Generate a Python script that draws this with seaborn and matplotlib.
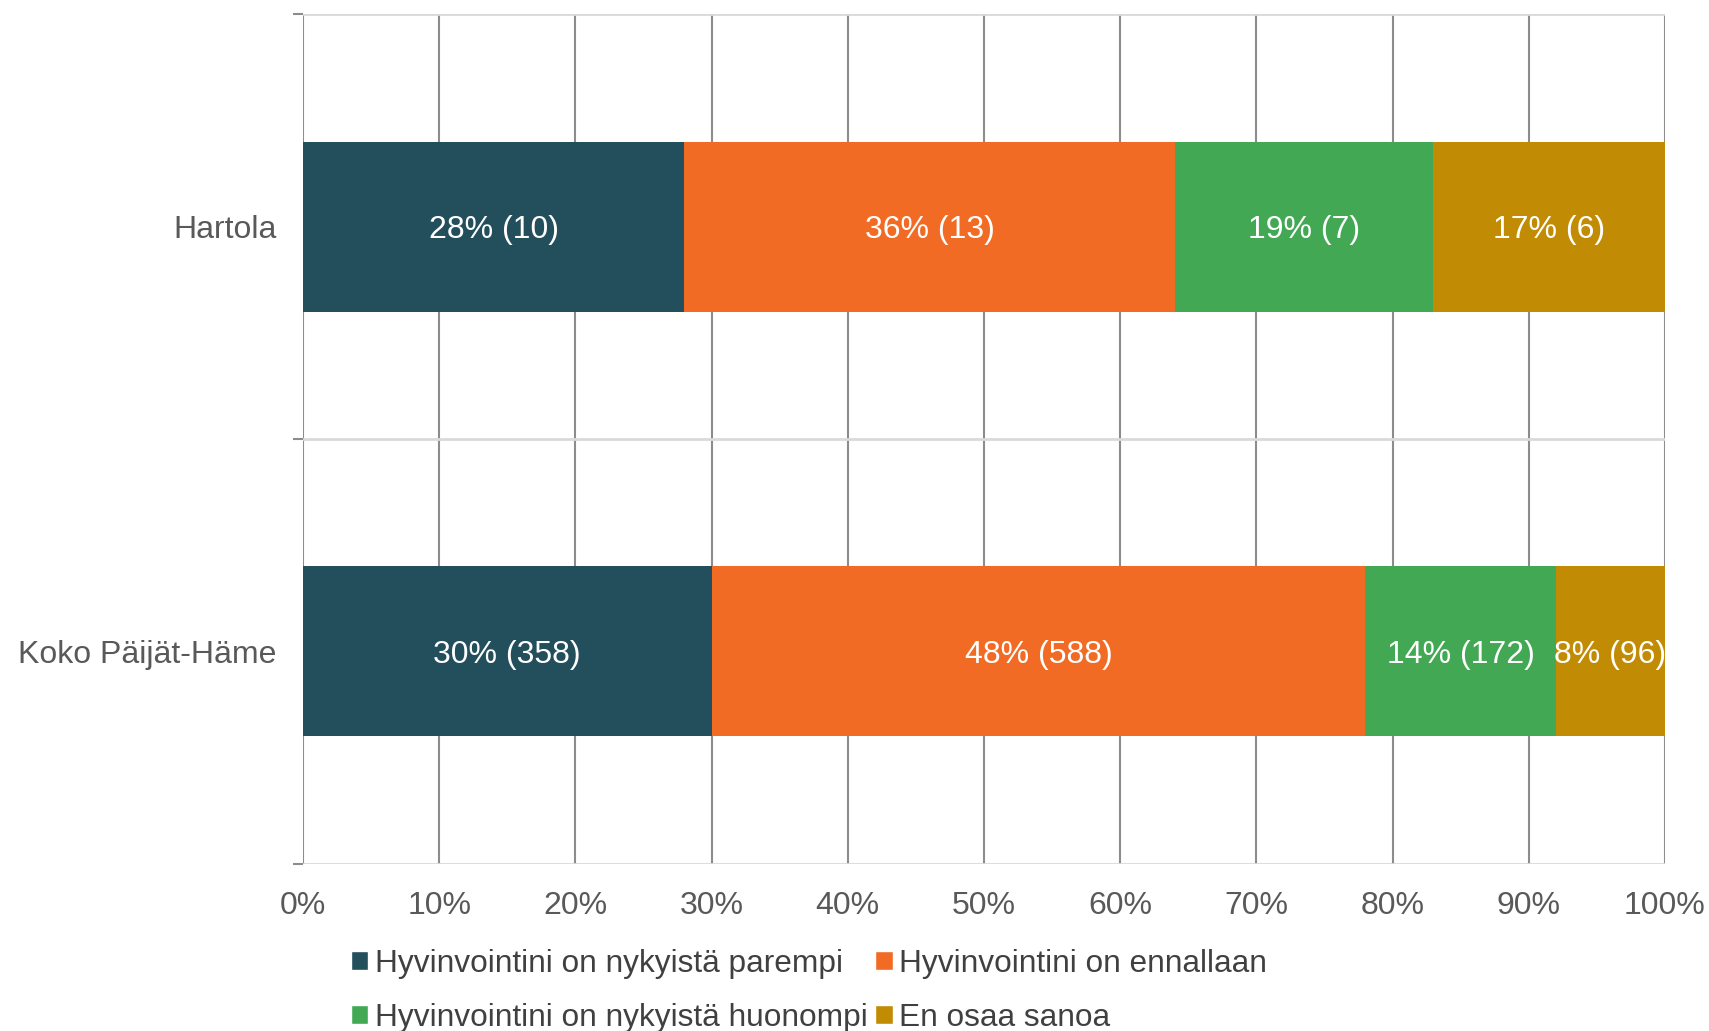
import pandas as pd
import seaborn as sns
import matplotlib.pyplot as plt
from matplotlib.patches import Patch

regions = ["Hartola", "Koko Päijät-Häme"]
series = [
    "Hyvinvointini on nykyistä parempi",
    "Hyvinvointini on ennallaan",
    "Hyvinvointini on nykyistä huonompi",
    "En osaa sanoa",
]
percent = {
    series[0]: [28, 30],
    series[1]: [36, 48],
    series[2]: [19, 14],
    series[3]: [17, 8],
}
counts = {
    series[0]: [10, 358],
    series[1]: [13, 588],
    series[2]: [7, 172],
    series[3]: [6, 96],
}
colors = ["#234E5C", "#F26B24", "#43A854", "#C18B04"]

sns.set_theme(style="white")
plt.rcParams["font.family"] = ["Liberation Sans", "DejaVu Sans"]

fig = plt.figure(figsize=(17.09, 10.31), dpi=100)
ax = fig.add_axes([0.1773, 0.162, 0.9742 - 0.1773, 0.9864 - 0.162])

# stacked bars: draw cumulative totals from the last series back to the first
df = pd.DataFrame(percent, index=regions)
cum = df.cumsum(axis=1)
for s, c in reversed(list(zip(series, colors))):
    sns.barplot(x=cum[s].values, y=regions, color=c, width=0.4,
                orient="h", ax=ax, zorder=3, linewidth=0, saturation=1)

# labels at segment centers
for i, r in enumerate(regions):
    left = 0
    for s in series:
        v = df.loc[r, s]
        ax.text(left + v / 2, i, f"{v}% ({counts[s][i]})", ha="center",
                va="center_baseline", color="white", fontsize=23, zorder=4)
        left += v

ax.set_xlim(0, 100)
ax.set_ylim(1.5, -0.5)
ax.set_xticks(range(0, 101, 10))
ax.set_xticklabels([f"{t}%" for t in range(0, 101, 10)])
ax.set_yticks([0, 1])
ax.set_yticklabels(regions)
ax.set_yticks([-0.5, 0.5, 1.5], minor=True)
ax.tick_params(axis="x", length=0, pad=19.5, labelsize=23, labelcolor="#595959")
ax.tick_params(axis="y", which="major", length=0, pad=19, labelsize=23,
               labelcolor="#595959")
ax.tick_params(axis="y", which="minor", left=True, length=7, width=1.5,
               color="#8c8c8c")
ax.grid(axis="x", which="major", color="#8c8c8c", linewidth=1.5, zorder=1)
ax.grid(axis="y", which="minor", color="#d9d9d9", linewidth=2, zorder=1)
ax.grid(axis="y", which="major", visible=False)
ax.set_xlabel("")
ax.set_ylabel("")
sns.despine(ax=ax, left=True, bottom=True)

handles = [Patch(facecolor=c, label=s) for s, c in zip(series, colors)]
order = [0, 2, 1, 3]
leg = fig.legend([handles[k] for k in order], [series[k] for k in order],
                 ncol=2, loc="center left", bbox_to_anchor=(0.196, 0.039),
                 frameon=False, fontsize=22.8, handlelength=0.55,
                 handleheight=0.55, handletextpad=0.2, columnspacing=0.25,
                 labelspacing=0.75, borderpad=0)
for t in leg.get_texts():
    t.set_color("#404040")

fig.savefig("out.png", dpi=100)
